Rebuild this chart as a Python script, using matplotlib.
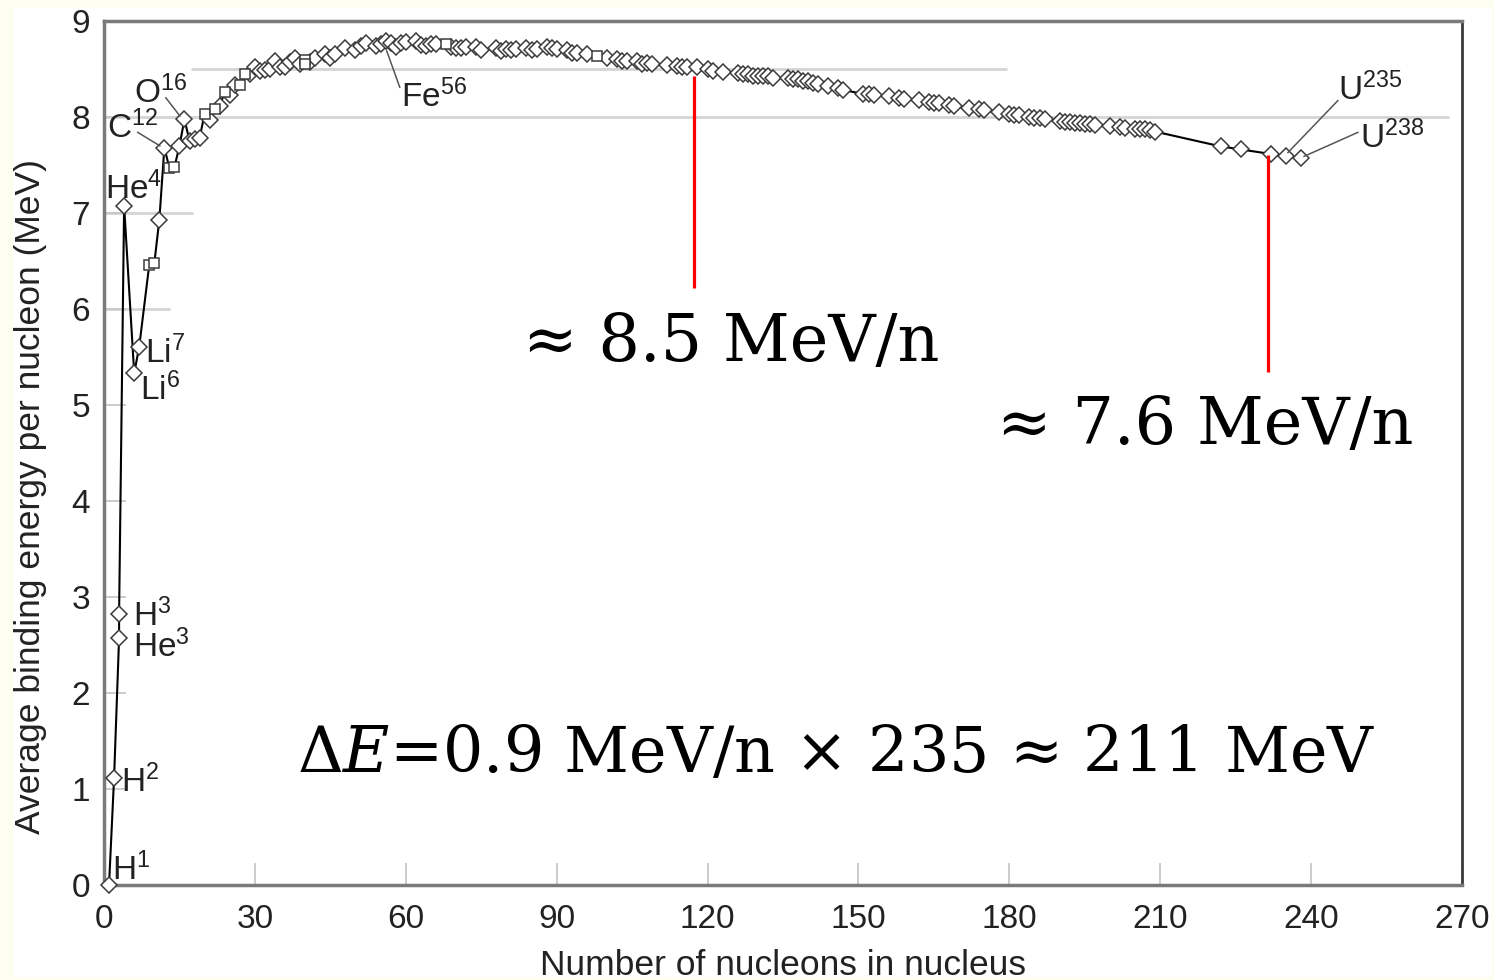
"""Binding energy per nucleon curve with fission energy annotation."""

import matplotlib
matplotlib.use("Agg")
import matplotlib.pyplot as plt
from matplotlib.patches import Rectangle

plt.rcParams["font.family"] = ["Liberation Sans", "DejaVu Sans"]
plt.rcParams["mathtext.fontset"] = "custom"
plt.rcParams["mathtext.rm"] = "Liberation Sans"
plt.rcParams["mathtext.it"] = "Liberation Sans:italic"

# mass number A and average binding energy per nucleon (MeV), in A order
mass_number = [
    1, 2, 3, 3, 4, 6, 7, 9, 10, 11, 12, 13, 14, 15, 16, 17, 18, 19, 20, 21,
    22, 23, 24, 25, 26, 27, 28, 29, 30, 31, 32, 33, 34, 35, 36, 37, 38, 39,
    40, 40, 41, 42, 44, 45, 46, 48, 50, 51, 52, 54, 55, 56, 57, 58, 59, 60,
    62, 63, 64, 65, 66, 68, 69, 70, 71, 72, 74, 75, 78, 79, 80, 81, 82, 84,
    85, 86, 88, 89, 90, 92, 93, 94, 96, 98, 100, 102, 103, 104, 106, 107,
    108, 109, 112, 114, 115, 116, 118, 120, 121, 123, 126, 127, 128, 129,
    130, 131, 132, 133, 136, 137, 138, 139, 140, 141, 142, 144, 146, 147,
    151, 152, 153, 156, 158, 159, 162, 164, 165, 166, 168, 169, 172, 174,
    175, 178, 180, 181, 182, 184, 185, 186, 187, 190, 191, 192, 193, 194,
    195, 196, 197, 200, 202, 203, 205, 206, 207, 208, 209, 222, 226, 232,
    235, 238,
]
binding_energy = [
    0.000, 1.112, 2.573, 2.827, 7.074, 5.332, 5.606, 6.463, 6.475, 6.928,
    7.680, 7.470, 7.476, 7.699, 7.976, 7.751, 7.767, 7.779, 8.032, 7.972,
    8.080, 8.112, 8.261, 8.224, 8.334, 8.332, 8.448, 8.450, 8.521, 8.481,
    8.493, 8.498, 8.584, 8.520, 8.520, 8.570, 8.614, 8.557, 8.595, 8.551,
    8.576, 8.617, 8.658, 8.619, 8.656, 8.723, 8.701, 8.742, 8.776, 8.736,
    8.765, 8.790, 8.770, 8.732, 8.768, 8.781, 8.795, 8.752, 8.736, 8.757,
    8.760, 8.756, 8.725, 8.722, 8.718, 8.732, 8.725, 8.701, 8.718, 8.688,
    8.711, 8.696, 8.711, 8.717, 8.697, 8.712, 8.733, 8.714, 8.710, 8.693,
    8.664, 8.667, 8.654, 8.635, 8.619, 8.607, 8.584, 8.585, 8.580, 8.554,
    8.567, 8.548, 8.545, 8.532, 8.517, 8.523, 8.517, 8.505, 8.482, 8.472,
    8.463, 8.445, 8.449, 8.431, 8.430, 8.424, 8.428, 8.410, 8.403, 8.392,
    8.393, 8.378, 8.376, 8.354, 8.346, 8.327, 8.304, 8.281, 8.240, 8.244,
    8.229, 8.215, 8.202, 8.189, 8.174, 8.159, 8.147, 8.142, 8.130, 8.115,
    8.097, 8.084, 8.069, 8.052, 8.035, 8.023, 8.018, 8.005, 7.991, 7.989,
    7.978, 7.963, 7.948, 7.948, 7.938, 7.936, 7.927, 7.927, 7.916, 7.906,
    7.897, 7.886, 7.878, 7.875, 7.870, 7.868, 7.848, 7.694, 7.662, 7.615,
    7.591, 7.570,
]
# nuclides drawn with square markers instead of diamonds
square_mass = [9, 10, 13, 14, 20, 22, 24, 27, 28, 40, 68, 98]

# isotope labels: text, text anchor (A, MeV), leader line start/end
labels = ["H$^{1}$", "H$^{2}$", "H$^{3}$", "He$^{3}$", "He$^{4}$", "Li$^{7}$",
          "Li$^{6}$", "C$^{12}$", "O$^{16}$", "Fe$^{56}$", "U$^{235}$", "U$^{238}$"]
label_x = [1.6, 3.4, 5.8, 5.8, 0.2, 8.2, 7.2, 0.6, 6.0, 59.0, 245.3, 249.7]
label_y = [0.05, 0.97, 2.70, 2.37, 7.14, 5.44, 5.05, 7.78, 8.14, 8.10, 8.18, 7.68]
leaders = {
    "C$^{12}$": ((6.7, 7.84), (11.1, 7.70)),
    "O$^{16}$": ((12.3, 8.20), (15.1, 8.01)),
    "Fe$^{56}$": ((56.2, 8.69), (58.8, 8.31)),
    "U$^{235}$": ((245.3, 8.17), (235.4, 7.63)),
    "U$^{238}$": ((249.3, 7.84), (238.6, 7.59)),
}

# red markers for the two binding energies compared
red_x = [117.4, 231.4]
red_top = [8.43, 7.60]
red_bottom = [6.22, 5.34]
notes = ["≈ 8.5 MeV/n", "≈ 7.6 MeV/n", r"$\Delta E$=0.9 MeV/n × 235 ≈ 211 MeV"]
note_x = [124.7, 218.9, 145.5]
note_y = [5.46, 4.59, 1.18]
note_size = [47, 47, 45.7]

fig = plt.figure(figsize=(14.94, 9.8), dpi=100, facecolor="#fdfdf0")
fig.patches.append(Rectangle((13 / 1494, 3 / 980), 1479 / 1494, 969 / 980,
                             transform=fig.transFigure, facecolor="white",
                             edgecolor="none", zorder=-5))
ax = fig.add_axes([104 / 1494, 95 / 980, 1358 / 1494, 864 / 980])
ax.set_facecolor("white")

# partial grey reference lines
ax.hlines([6, 7, 8, 8.5], [0, 0, 0, 17.2], [13.2, 17.6, 267.5, 179.6],
          colors="#d4d4d4", lw=2, zorder=1)

ax.plot(mass_number, binding_energy, color="black", lw=1.5, zorder=2, clip_on=False)
dia_x = [a for a in mass_number if a not in square_mass]
dia_y = [b for a, b in zip(mass_number, binding_energy) if a not in square_mass]
sq_x = [a for a in mass_number if a in square_mass]
sq_y = [b for a, b in zip(mass_number, binding_energy) if a in square_mass]
ax.plot(dia_x, dia_y, "D", ms=8, mfc="white", mec="#3a3a3a", mew=1.1,
        zorder=3, clip_on=False)
ax.plot(sq_x, sq_y, "s", ms=7.5, mfc="white", mec="#3a3a3a", mew=1.1,
        zorder=3, clip_on=False)

for text, x, y in zip(labels, label_x, label_y):
    ax.text(x, y, text, fontsize=24, color="#222222", va="baseline",
            math_fontfamily="custom", zorder=4)
for (x0, y0), (x1, y1) in leaders.values():
    ax.plot([x0, x1], [y0, y1], color="#555555", lw=1.1, zorder=4)

ax.vlines(red_x, red_bottom, red_top, colors="#ff0000", lw=2.3, zorder=4)
for text, x, y, size in zip(notes, note_x, note_y, note_size):
    ax.text(x, y, text, fontsize=size, ha="center", va="baseline",
            family="DejaVu Serif", math_fontfamily="dejavuserif", color="black")

ax.set_xlim(0, 270)
ax.set_ylim(0, 9)
ax.set_xticks(range(0, 271, 30))
ax.set_yticks(range(0, 10))
ax.tick_params(direction="in", length=16, width=1.3, color="#c8c8c8",
               labelsize=24, labelcolor="#222222")
ax.tick_params(axis="x", pad=14)
ax.tick_params(axis="y", pad=10)
for side in ["top", "left", "bottom"]:
    ax.spines[side].set_color("#7a7a7a")
    ax.spines[side].set_linewidth(2.5)
ax.spines["right"].set_color("#3a3a3a")
ax.spines["right"].set_linewidth(2)

ax.set_xlabel("Number of nucleons in nucleus", fontsize=25.5, color="#222222", labelpad=10)
ax.set_ylabel("Average binding energy per nucleon (MeV)", fontsize=25.5,
              color="#222222")
ax.yaxis.set_label_coords(-0.042, 0.45)

fig.savefig("out.png", dpi=100, facecolor=fig.get_facecolor())
